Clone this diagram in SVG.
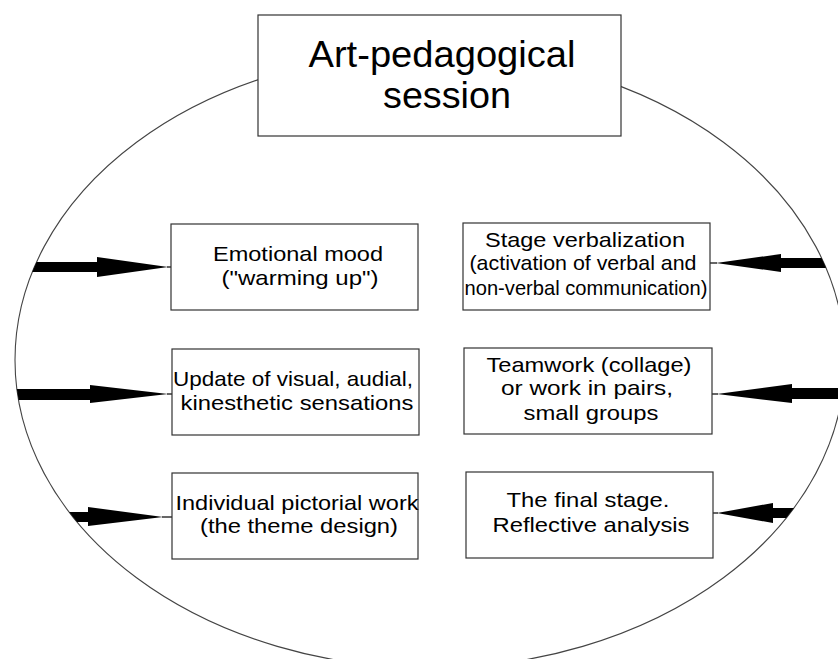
<svg xmlns="http://www.w3.org/2000/svg" width="838" height="659" viewBox="0 0 838 659">
<style>
.box{fill:#fff;stroke:#333;stroke-width:1.2}
.t{font-family:"Liberation Sans",Arial,sans-serif;font-size:21px;fill:#000;text-anchor:middle}
.tt{font-family:"Liberation Sans",Arial,sans-serif;font-size:37px;fill:#000;text-anchor:middle}
.arr{fill:#000;stroke:none}
.ln{stroke:#000;stroke-width:1.2}
</style>
<defs>
<clipPath id="inEll"><ellipse cx="430" cy="360" rx="415" ry="308"/></clipPath>
</defs>
<rect width="838" height="659" fill="#fff"/>
<g id="ellipse">
<ellipse cx="430" cy="360" rx="415" ry="308" fill="none" stroke="#444" stroke-width="1.1"/>
</g>
<g id="connectors">
<g clip-path="url(#inEll)">
<rect class="arr" x="0" y="262" width="98" height="10"/>
<rect class="arr" x="0" y="389" width="91" height="11"/>
<rect class="arr" x="0" y="512" width="89" height="10"/>
<rect class="arr" x="780" y="258" width="60" height="10"/>
<rect class="arr" x="791" y="388" width="49" height="11"/>
<rect class="arr" x="772" y="508" width="70" height="10"/>
</g>
<polygon class="arr" points="97,257 97,277 168,267"/>
<line class="ln" x1="167" y1="267" x2="171" y2="267"/>
<polygon class="arr" points="90,385 90,403 168,394"/>
<line class="ln" x1="167" y1="394" x2="172" y2="394"/>
<polygon class="arr" points="88,507 88,526 163,517"/>
<line class="ln" x1="162" y1="517" x2="172" y2="517"/>
<polygon class="arr" points="781,254 781,272 716,263"/>
<line class="ln" x1="710" y1="263" x2="717" y2="263"/>
<polygon class="arr" points="792,384 792,403 717,394"/>
<line class="ln" x1="712" y1="394" x2="718" y2="394"/>
<polygon class="arr" points="773,503 773,523 717,513"/>
<line class="ln" x1="713" y1="513" x2="718" y2="513"/>
</g>
<g id="title">
<rect class="box" x="258" y="15" width="363" height="121"/>
<text class="tt" x="442" y="67" textLength="267" lengthAdjust="spacingAndGlyphs">Art-pedagogical</text>
<text class="tt" x="447" y="108" textLength="128" lengthAdjust="spacingAndGlyphs">session</text>
</g>
<g id="emotional-mood">
<rect class="box" x="171" y="224" width="247" height="86"/>
<text class="t" x="298" y="261" textLength="170" lengthAdjust="spacingAndGlyphs">Emotional mood</text>
<text class="t" x="300" y="285" textLength="157" lengthAdjust="spacingAndGlyphs">("warming up")</text>
</g>
<g id="update-sensations">
<rect class="box" x="172" y="349" width="247" height="86"/>
<text class="t" x="293" y="386" textLength="240" lengthAdjust="spacingAndGlyphs">Update of visual, audial,</text>
<text class="t" x="297" y="410" textLength="233" lengthAdjust="spacingAndGlyphs">kinesthetic sensations</text>
</g>
<g id="individual-work">
<rect class="box" x="172" y="473" width="246" height="86"/>
<text class="t" x="297" y="510" textLength="243" lengthAdjust="spacingAndGlyphs">Individual pictorial work</text>
<text class="t" x="299" y="533" textLength="198" lengthAdjust="spacingAndGlyphs">(the theme design)</text>
</g>
<g id="stage-verbalization">
<rect class="box" x="463" y="223" width="247" height="87"/>
<text class="t" x="585" y="247" textLength="200" lengthAdjust="spacingAndGlyphs">Stage verbalization</text>
<text class="t" x="583" y="270" textLength="227" lengthAdjust="spacingAndGlyphs">(activation of verbal and</text>
<text class="t" x="586" y="295" textLength="243" lengthAdjust="spacingAndGlyphs">non-verbal communication)</text>
</g>
<g id="teamwork">
<rect class="box" x="464" y="348" width="248" height="86"/>
<text class="t" x="589" y="372" textLength="205" lengthAdjust="spacingAndGlyphs">Teamwork (collage)</text>
<text class="t" x="587" y="395" textLength="172" lengthAdjust="spacingAndGlyphs">or work in pairs,</text>
<text class="t" x="591" y="420" textLength="135" lengthAdjust="spacingAndGlyphs">small groups</text>
</g>
<g id="final-stage">
<rect class="box" x="466" y="472" width="247" height="86"/>
<text class="t" x="588" y="507" textLength="163" lengthAdjust="spacingAndGlyphs">The final stage.</text>
<text class="t" x="591" y="532" textLength="197" lengthAdjust="spacingAndGlyphs">Reflective analysis</text>
</g>
</svg>
